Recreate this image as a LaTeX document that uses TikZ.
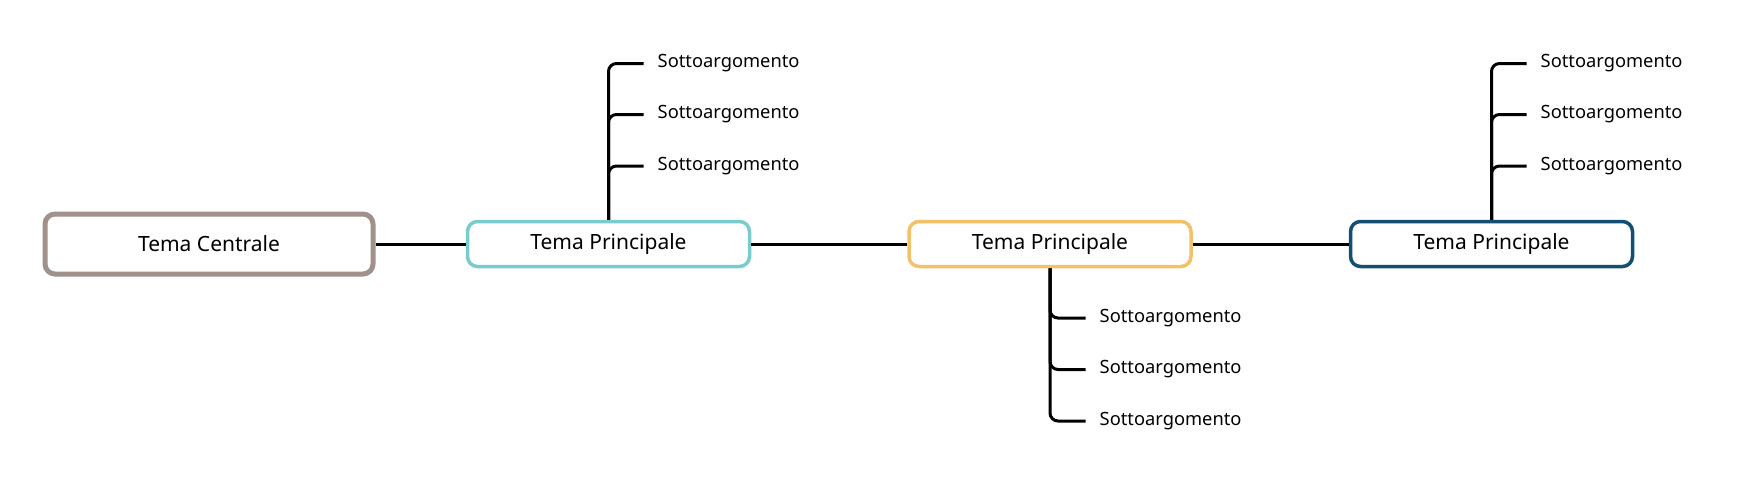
\documentclass[tikz,border=0pt]{standalone}
\usepackage{fontspec}
\setmainfont{Noto Sans}
\definecolor{tcborder}{HTML}{A0918C}
\definecolor{teal}{HTML}{7ACCCC}
\definecolor{orng}{HTML}{F5C06A}
\definecolor{navy}{HTML}{134F75}
\tikzset{
  central/.style={draw=tcborder, line width=5pt, rounded corners=10pt, fill=white,
    minimum width=328pt, minimum height=60pt, inner sep=0pt, font=\fontsize{21}{25}\selectfont},
  mainbox/.style={draw=#1, line width=3.5pt, rounded corners=10pt, fill=white,
    minimum width=282pt, minimum height=45pt, inner sep=0pt, font=\fontsize{21}{25}\selectfont},
  subtxt/.style={anchor=west, inner xsep=14pt, inner ysep=0pt, font=\fontsize{18.3}{22}\selectfont},
  conn/.style={line width=3pt, black},
  branch/.style={line width=3pt, black, rounded corners=8pt},
}
\begin{document}
\begin{tikzpicture}[x=1pt,y=-1pt]
\useasboundingbox (0,0) rectangle (1746,498);
\node[central] (tc) at (209,244) {Tema Centrale};
\node[mainbox=teal] (tp1) at (608.5,244) {Tema Principale};
\node[mainbox=orng] (tp2) at (1050,244) {Tema Principale};
\node[mainbox=navy] (tp3) at (1491.5,244) {Tema Principale};
% subtopics
\node[subtxt] (a1) at (643.5,63.5) {Sottoargomento};
\node[subtxt] (a2) at (643.5,114.5) {Sottoargomento};
\node[subtxt] (a3) at (643.5,166) {Sottoargomento};
\node[subtxt] (b1) at (1085.5,318) {Sottoargomento};
\node[subtxt] (b2) at (1085.5,369.5) {Sottoargomento};
\node[subtxt] (b3) at (1085.5,421) {Sottoargomento};
\node[subtxt] (c1) at (1526.5,63.5) {Sottoargomento};
\node[subtxt] (c2) at (1526.5,114.5) {Sottoargomento};
\node[subtxt] (c3) at (1526.5,166) {Sottoargomento};
% main connectors
\draw[conn] (tc.east) -- (tp1.west);
\draw[conn] (tp1.east) -- (tp2.west);
\draw[conn] (tp2.east) -- (tp3.west);
% branches
\foreach \s in {a1,a2,a3} \draw[branch] (tp1.north) |- (\s.west);
\foreach \s in {b1,b2,b3} \draw[branch] (tp2.south) |- (\s.west);
\foreach \s in {c1,c2,c3} \draw[branch] (tp3.north) |- (\s.west);
\end{tikzpicture}
\end{document}
